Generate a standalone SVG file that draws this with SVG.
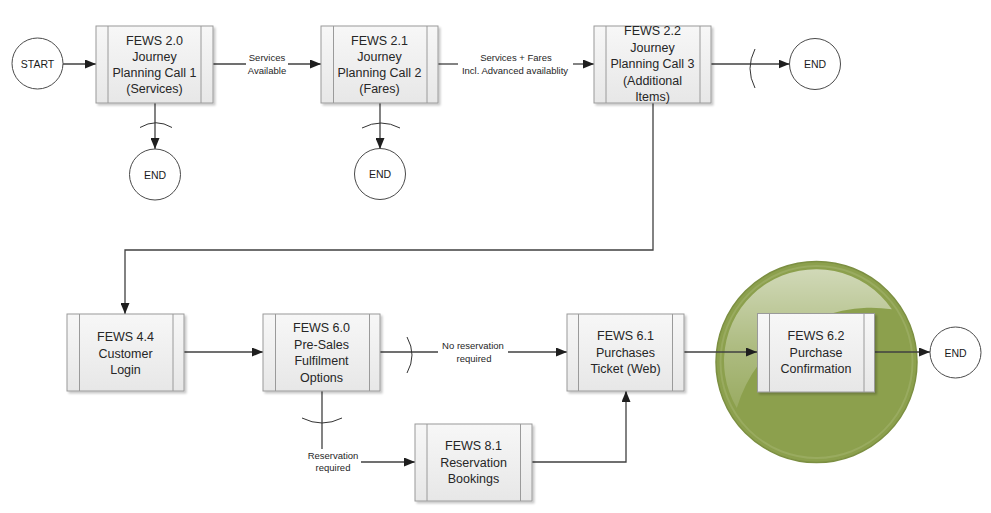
<svg xmlns="http://www.w3.org/2000/svg" width="991" height="513" viewBox="0 0 991 513">
  <style>
    .box { fill: url(#boxFill); stroke: #9a9a9a; stroke-width: 1; }
    .bar { stroke: #9a9a9a; stroke-width: 1; }
    .btxt { font-family: "Liberation Sans", Arial, sans-serif; font-size: 12.5px; fill: #262626; text-anchor: middle; }
    .term { fill: #ffffff; stroke: #4a4a4a; stroke-width: 1; }
    .ttxt { font-family: "Liberation Sans", Arial, sans-serif; font-size: 10.5px; fill: #1a1a1a; text-anchor: middle; }
    .lbl { font-family: "Liberation Sans", Arial, sans-serif; font-size: 9.5px; fill: #262626; text-anchor: middle; }
    .con { fill: none; stroke: #404040; stroke-width: 1.3; }
    .arr { marker-end: url(#head); }
    .arc { fill: none; stroke: #333333; stroke-width: 1; }
  </style>
  <defs>
    <linearGradient id="boxFill" x1="0" y1="0" x2="0" y2="1">
      <stop offset="0" stop-color="#f7f7f7"/>
      <stop offset="1" stop-color="#e7e7e7"/>
    </linearGradient>
    <linearGradient id="gloss" x1="0" y1="0" x2="0" y2="1">
      <stop offset="0" stop-color="#ffffff" stop-opacity="0.6"/>
      <stop offset="0.55" stop-color="#ffffff" stop-opacity="0.3"/>
      <stop offset="1" stop-color="#ffffff" stop-opacity="0.12"/>
    </linearGradient>
    <filter id="shadow" x="-10%" y="-10%" width="130%" height="130%">
      <feDropShadow dx="2" dy="2" stdDeviation="1.2" flood-color="#000000" flood-opacity="0.22"/>
    </filter>
    <marker id="head" markerUnits="userSpaceOnUse" markerWidth="11" markerHeight="9" refX="11" refY="4.5" orient="auto">
      <path d="M0,0 L11,4.5 L0,9 z" fill="#1e1e1e"/>
    </marker>
  </defs>

  <rect width="991" height="513" fill="#ffffff"/>

  <!-- highlight disc behind the confirmation step -->
  <g id="highlight">
    <circle cx="816.5" cy="362" r="100.5" fill="#8ca04d" stroke="#7c8f42" stroke-width="1.5"/>
    <circle cx="816.5" cy="362" r="96" fill="none" stroke="#a6b672" stroke-width="2" opacity="0.5"/>
    <path d="M736.8,408 A92,92 0 0 1 891.9,309.2 A140,140 0 0 0 736.8,408 z" fill="url(#gloss)"/>
  </g>

  <!-- connectors -->
  <g id="connectors">
    <path class="con arr" d="M63,64 H96"/>
    <path class="con" d="M213,64 H246"/>
    <path class="con arr" d="M288,64 H321"/>
    <path class="con arr" d="M155,103 V149"/>
    <path class="con arr" d="M380,103 V149"/>
    <path class="con" d="M438,64 H458"/>
    <path class="con arr" d="M573,64 H594"/>
    <path class="con arr" d="M711,64 H789.5"/>
    <path class="con arr" d="M653,103 V250 H125 V314"/>
    <path class="con arr" d="M184,352 H263"/>
    <path class="con" d="M380,352 H438"/>
    <path class="con arr" d="M508,352 H567"/>
    <path class="con" d="M322,391 V449"/>
    <path class="con arr" d="M361,462 H415"/>
    <path class="con arr" d="M532,462 H626 V391"/>
    <path class="con arr" d="M684,352 H757"/>
    <path class="con arr" d="M874,352 H930"/>

    <path class="arc" d="M140,127.5 Q156,118 172,127.5"/>
    <path class="arc" d="M362,128 Q381,118 400,128"/>
    <path class="arc" d="M755,49 Q745,68.5 755,88"/>
    <path class="arc" d="M407,337 Q417,355 407,373"/>
    <path class="arc" d="M302,418 Q322,428 342,418"/>

    <text class="lbl" x="267" y="61">Services</text>
    <text class="lbl" x="267" y="74">Available</text>
    <text class="lbl" x="516" y="61">Services + Fares</text>
    <text class="lbl" x="515" y="74">Incl.  Advanced availablity</text>
    <text class="lbl" x="473" y="349">No reservation</text>
    <text class="lbl" x="474" y="362">required</text>
    <text class="lbl" x="333" y="459">Reservation</text>
    <text class="lbl" x="333" y="471">required</text>
  </g>

  <!-- terminators -->
  <g id="start">
    <circle class="term" cx="37.5" cy="63.5" r="25.5"/>
    <text class="ttxt" x="37.5" y="67.5">START</text>
  </g>
  <g id="end1">
    <circle class="term" cx="155" cy="174.5" r="25.5"/>
    <text class="ttxt" x="155" y="178.5">END</text>
  </g>
  <g id="end2">
    <circle class="term" cx="380" cy="174" r="25.5"/>
    <text class="ttxt" x="380" y="178">END</text>
  </g>
  <g id="end3">
    <circle class="term" cx="815" cy="64" r="25.5"/>
    <text class="ttxt" x="815" y="68">END</text>
  </g>
  <g id="end4">
    <circle class="term" cx="955.5" cy="352.5" r="25.5"/>
    <text class="ttxt" x="955.5" y="356.5">END</text>
  </g>

  <!-- process steps -->
  <g id="fews20">
    <rect class="box" x="96" y="26" width="117" height="77" filter="url(#shadow)"/>
    <path class="bar" d="M108,26 V103 M201,26 V103"/>
    <text class="btxt" x="154.5" y="45">FEWS 2.0</text>
    <text class="btxt" x="154.5" y="61">Journey</text>
    <text class="btxt" x="154.5" y="77">Planning Call 1</text>
    <text class="btxt" x="154.5" y="93">(Services)</text>
  </g>
  <g id="fews21">
    <rect class="box" x="321" y="26" width="117" height="77" filter="url(#shadow)"/>
    <path class="bar" d="M333.5,26 V103 M427,26 V103"/>
    <text class="btxt" x="379.5" y="45">FEWS 2.1</text>
    <text class="btxt" x="379.5" y="61">Journey</text>
    <text class="btxt" x="379.5" y="77">Planning Call 2</text>
    <text class="btxt" x="379.5" y="93">(Fares)</text>
  </g>
  <g id="fews22">
    <rect class="box" x="594" y="26" width="117" height="77" filter="url(#shadow)"/>
    <path class="bar" d="M606,26 V103 M700,26 V103"/>
    <text class="btxt" x="652.5" y="35">FEWS 2.2</text>
    <text class="btxt" x="652.5" y="51.5">Journey</text>
    <text class="btxt" x="652.5" y="68">Planning Call 3</text>
    <text class="btxt" x="652.5" y="84.5">(Additional</text>
    <text class="btxt" x="652.5" y="101">Items)</text>
  </g>
  <g id="fews44">
    <rect class="box" x="67" y="314" width="117" height="77" filter="url(#shadow)"/>
    <path class="bar" d="M79.5,314 V391 M173,314 V391"/>
    <text class="btxt" x="125.5" y="341">FEWS 4.4</text>
    <text class="btxt" x="125.5" y="357.5">Customer</text>
    <text class="btxt" x="125.5" y="374">Login</text>
  </g>
  <g id="fews60">
    <rect class="box" x="263" y="314" width="117" height="77" filter="url(#shadow)"/>
    <path class="bar" d="M275.5,314 V391 M369.5,314 V391"/>
    <text class="btxt" x="321.5" y="332">FEWS 6.0</text>
    <text class="btxt" x="321.5" y="348.5">Pre-Sales</text>
    <text class="btxt" x="321.5" y="365">Fulfilment</text>
    <text class="btxt" x="321.5" y="381.5">Options</text>
  </g>
  <g id="fews61">
    <rect class="box" x="567" y="314" width="117" height="77" filter="url(#shadow)"/>
    <path class="bar" d="M578.5,314 V391 M672.5,314 V391"/>
    <text class="btxt" x="625.5" y="340">FEWS 6.1</text>
    <text class="btxt" x="625.5" y="356.5">Purchases</text>
    <text class="btxt" x="625.5" y="373">Ticket (Web)</text>
  </g>
  <g id="fews81">
    <rect class="box" x="415" y="424" width="117" height="77" filter="url(#shadow)"/>
    <path class="bar" d="M427,424 V501 M520.5,424 V501"/>
    <text class="btxt" x="473.5" y="450">FEWS 8.1</text>
    <text class="btxt" x="473.5" y="466.5">Reservation</text>
    <text class="btxt" x="473.5" y="483">Bookings</text>
  </g>
  <g id="fews62">
    <rect class="box" x="757.5" y="313.5" width="117" height="78.5" filter="url(#shadow)"/>
    <path class="bar" d="M769.5,313.5 V392 M864,313.5 V392"/>
    <text class="btxt" x="816" y="340">FEWS 6.2</text>
    <text class="btxt" x="816" y="356.5">Purchase</text>
    <text class="btxt" x="816" y="373">Confirmation</text>
  </g>
</svg>
